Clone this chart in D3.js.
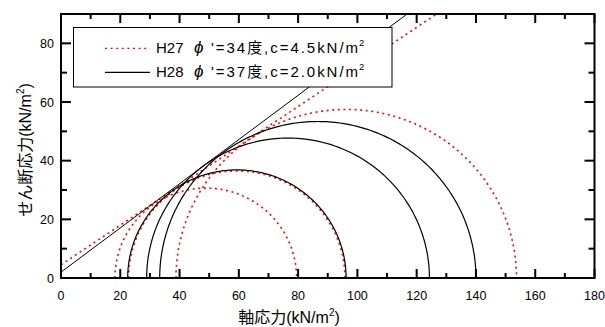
<!DOCTYPE html>
<html>
<head>
<meta charset="utf-8">
<script src="https://cdn.jsdelivr.net/npm/d3@7/dist/d3.min.js"></script>
<style>
  html, body { margin: 0; padding: 0; background: #fff; }
  svg { display: block; }
  text { font-family: "Liberation Sans", "Noto Sans CJK JP", sans-serif; fill: #000; }
</style>
</head>
<body>
<svg id="chart" width="605" height="327"></svg>
<script>
// Mohr circles: [sigma3, sigma1] in kN/m2
const circlesH27 = [[18.2, 79.5], [22.8, 95.8], [38.8, 153.7]];
const circlesH28 = [[22.5, 96.2], [28.9, 124.3], [33.3, 140.0]];
// Failure envelopes: friction angle (deg) and cohesion (kN/m2)
const envelopeH27 = { phi: 34, c: 4.5 };
const envelopeH28 = { phi: 37, c: 2.0 };
const legendLabels = ["H27", "H28"];
const xTicks = [0, 20, 40, 60, 80, 100, 120, 140, 160, 180];
const yTicks = [0, 20, 40, 60, 80];

const svg = d3.select("#chart");
const pL = 61, pR = 594.5, pT = 14, pB = 278;
const x = d3.scaleLinear().domain([0, 180]).range([pL, pR]);
const y = d3.scaleLinear().domain([0, 90]).range([pB, pT]);

const red = "#ff0000";
const dotted = "2,3.6";

svg.append("defs").append("clipPath").attr("id", "plot")
  .append("rect").attr("x", pL).attr("y", pT)
  .attr("width", pR - pL).attr("height", pB - pT);

const plot = svg.append("g").attr("clip-path", "url(#plot)");

const curve = d3.line()
  .x(d => x(d[0])).y(d => y(d[1]));
function circlePoints([s3, s1]) {
  const c = (s1 + s3) / 2, r = (s1 - s3) / 2;
  const pts = [];
  for (let i = 0; i <= 180; i++) {
    const a = Math.PI * i / 180;
    pts.push([c - r * Math.cos(a), r * Math.sin(a)]);
  }
  return pts;
}
function envelopePoints({ phi, c }) {
  const t = Math.tan(phi * Math.PI / 180);
  return [[0, c], [(95 - c) / t, 95]];
}

// H27 (red dotted)
circlesH27.forEach(cc => plot.append("path")
  .attr("d", curve(circlePoints(cc)))
  .attr("fill", "none").attr("stroke", red).attr("stroke-width", 1.6)
  .attr("stroke-dasharray", dotted));
plot.append("path").attr("d", curve(envelopePoints(envelopeH27)))
  .attr("fill", "none").attr("stroke", red).attr("stroke-width", 1.6)
  .attr("stroke-dasharray", dotted);

// H28 (black solid)
circlesH28.forEach(cc => plot.append("path")
  .attr("d", curve(circlePoints(cc)))
  .attr("fill", "none").attr("stroke", "#000").attr("stroke-width", 1.2));
plot.append("path").attr("d", curve(envelopePoints(envelopeH28)))
  .attr("fill", "none").attr("stroke", "#000").attr("stroke-width", 1);

// Frame and ticks (inward on all four sides)
svg.append("rect").attr("x", pL).attr("y", pT)
  .attr("width", pR - pL).attr("height", pB - pT)
  .attr("fill", "none").attr("stroke", "#000").attr("stroke-width", 2);

const xMinor = d3.range(10, 180, 20);
const yMinor = d3.range(10, 90, 20);
const tk = svg.append("g").attr("stroke", "#000").attr("stroke-width", 2);
xTicks.forEach(v => {
  tk.append("line").attr("x1", x(v)).attr("x2", x(v)).attr("y1", pB).attr("y2", pB - 9);
  tk.append("line").attr("x1", x(v)).attr("x2", x(v)).attr("y1", pT).attr("y2", pT + 9);
});
xMinor.forEach(v => {
  tk.append("line").attr("x1", x(v)).attr("x2", x(v)).attr("y1", pB).attr("y2", pB - 5);
  tk.append("line").attr("x1", x(v)).attr("x2", x(v)).attr("y1", pT).attr("y2", pT + 5);
});
yTicks.forEach(v => {
  tk.append("line").attr("x1", pL).attr("x2", pL + 10).attr("y1", y(v)).attr("y2", y(v));
  tk.append("line").attr("x1", pR).attr("x2", pR - 10).attr("y1", y(v)).attr("y2", y(v));
});
yMinor.forEach(v => {
  tk.append("line").attr("x1", pL).attr("x2", pL + 6).attr("y1", y(v)).attr("y2", y(v));
  tk.append("line").attr("x1", pR).attr("x2", pR - 6).attr("y1", y(v)).attr("y2", y(v));
});

// Tick labels
svg.append("g").selectAll("text").data(xTicks).join("text")
  .attr("x", d => x(d)).attr("y", 300)
  .attr("text-anchor", "middle").attr("font-size", 12.5).text(d => d);
svg.append("g").selectAll("text").data(yTicks).join("text")
  .attr("x", pL - 7).attr("y", d => y(d) + 4.5)
  .attr("text-anchor", "end").attr("font-size", 12.5).text(d => d);

// Axis titles
const xt = svg.append("text").attr("x", 289).attr("y", 323)
  .attr("text-anchor", "middle").attr("font-size", 16);
xt.append("tspan").text("軸応力(kN/m");
xt.append("tspan").attr("font-size", 10).attr("dy", -7).text("2");
xt.append("tspan").attr("dy", 7).text(")");

const yt = svg.append("text")
  .attr("transform", "translate(31,150) rotate(-90)")
  .attr("text-anchor", "middle").attr("font-size", 16);
yt.append("tspan").text("せん断応力(kN/m");
yt.append("tspan").attr("font-size", 10).attr("dy", -7).text("2");
yt.append("tspan").attr("dy", 7).text(")");

// Legend
const lg = svg.append("g");
lg.append("rect").attr("x", 73.5).attr("y", 27.5).attr("width", 318.5).attr("height", 59.5)
  .attr("fill", "#fff").attr("stroke", "#000").attr("stroke-width", 1);
const legendRows = [
  { label: legendLabels[0], env: envelopeH27, color: red, dash: dotted, w: 1.3 },
  { label: legendLabels[1], env: envelopeH28, color: "#000", dash: null, w: 1.2 }
];
legendRows.forEach((r, i) => {
  const cy = 48.3 + i * 24;
  const base = 53 + i * 24;
  lg.append("line").attr("x1", 105).attr("x2", 150).attr("y1", cy).attr("y2", cy)
    .attr("stroke", r.color).attr("stroke-width", r.w)
    .attr("stroke-dasharray", r.dash);
  lg.append("text").attr("x", 156).attr("y", base).attr("font-size", 15).text(r.label);
  lg.append("text").attr("x", 194).attr("y", base).attr("font-size", 17)
    .attr("font-style", "italic").text("ϕ");
  lg.append("text").attr("x", 211).attr("y", base).attr("font-size", 15)
    .attr("textLength", 147).attr("lengthAdjust", "spacing")
    .text(`'=${r.env.phi}度,c=${r.env.c.toFixed(1)}kN/m`);
  lg.append("text").attr("x", 359).attr("y", base - 7).attr("font-size", 9.5).text("2");
});
</script>
</body>
</html>
